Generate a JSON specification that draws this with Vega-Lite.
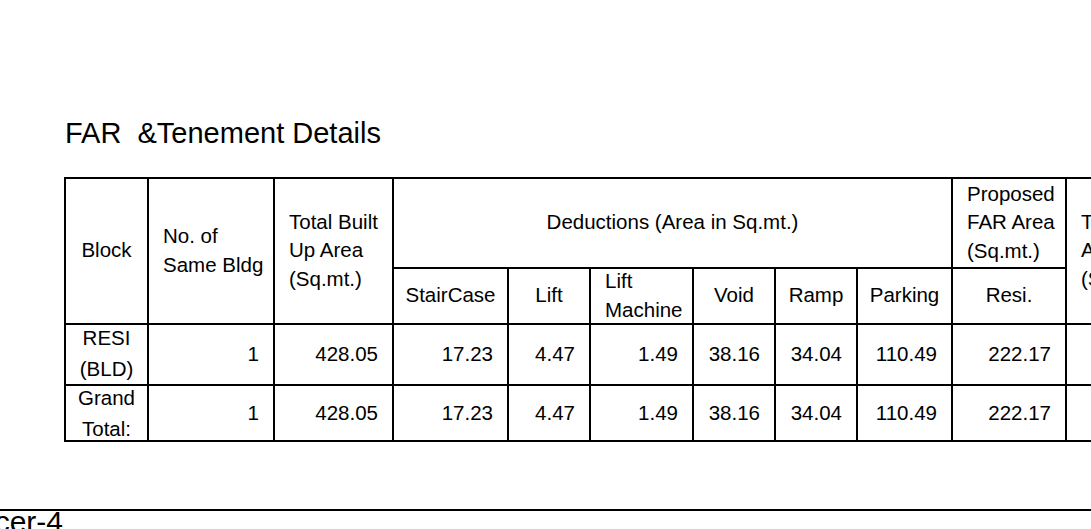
{
  "$schema": "https://vega.github.io/schema/vega-lite/v6.json",
  "width": 1091,
  "height": 529,
  "autosize": {"type": "none"},
  "padding": 0,
  "background": "white",
  "config": {
    "view": {"stroke": null},
    "text": {"font": "Liberation Sans", "fontSize": 20.5, "color": "black"}
  },
  "title": {
    "text": "FAR\u00a0 &Tenement Details",
    "anchor": "start",
    "frame": "group",
    "orient": "top",
    "offset": 0,
    "dx": 65,
    "dy": 172,
    "baseline": "alphabetic",
    "font": "Liberation Sans",
    "fontSize": 29,
    "fontWeight": "normal",
    "color": "black"
  },
  "datasets": {
    "columns": [
      {"key": "Block", "left": 65, "right": 148, "mid": 106.5},
      {"key": "Bldgs", "left": 148, "right": 274, "mid": 211},
      {"key": "BuiltUp", "left": 274, "right": 393, "mid": 333.5},
      {"key": "Deductions", "left": 393, "right": 952, "mid": 672.5},
      {"key": "StairCase", "left": 393, "right": 508, "mid": 450.5},
      {"key": "Lift", "left": 508, "right": 590, "mid": 549},
      {"key": "LiftMachine", "left": 590, "right": 693, "mid": 641.5},
      {"key": "Void", "left": 693, "right": 775, "mid": 734},
      {"key": "Ramp", "left": 775, "right": 857, "mid": 816},
      {"key": "Parking", "left": 857, "right": 952, "mid": 904.5},
      {"key": "ProposedFAR", "left": 952, "right": 1066, "mid": 1009},
      {"key": "Resi", "left": 952, "right": 1066, "mid": 1009},
      {"key": "TotalFAR", "left": 1066, "right": 1180, "mid": 1123}
    ],
    "bands": [
      {"key": "head", "top": 178, "bottom": 324, "mid": 251},
      {"key": "head-upper", "top": 178, "bottom": 268, "mid": 223},
      {"key": "head-lower", "top": 268, "bottom": 324, "mid": 296},
      {"key": "RESI (BLD)", "top": 324, "bottom": 385, "mid": 354.5},
      {"key": "Grand Total:", "top": 385, "bottom": 441, "mid": 414}
    ],
    "headers": [
      {"col": "Block", "band": "head", "text": ["Block"], "align": "center"},
      {"col": "Bldgs", "band": "head", "text": ["No. of", "Same Bldg"], "align": "left"},
      {"col": "BuiltUp", "band": "head", "text": ["Total Built", "Up Area", "(Sq.mt.)"], "align": "left"},
      {"col": "Deductions", "band": "head-upper", "text": ["Deductions (Area in Sq.mt.)"], "align": "center"},
      {"col": "ProposedFAR", "band": "head-upper", "text": ["Proposed", "FAR Area", "(Sq.mt.)"], "align": "left"},
      {"col": "StairCase", "band": "head-lower", "text": ["StairCase"], "align": "center"},
      {"col": "Lift", "band": "head-lower", "text": ["Lift"], "align": "center"},
      {"col": "LiftMachine", "band": "head-lower", "text": ["Lift", "Machine"], "align": "left"},
      {"col": "Void", "band": "head-lower", "text": ["Void"], "align": "center"},
      {"col": "Ramp", "band": "head-lower", "text": ["Ramp"], "align": "center"},
      {"col": "Parking", "band": "head-lower", "text": ["Parking"], "align": "center"},
      {"col": "Resi", "band": "head-lower", "text": ["Resi."], "align": "center"},
      {"col": "TotalFAR", "band": "head", "text": ["Total FAR", "Area", "(Sq.mt.)"], "align": "left"}
    ],
    "table": [
      {"Block": "RESI (BLD)", "Bldgs": 1, "BuiltUp": 428.05, "StairCase": 17.23, "Lift": 4.47, "LiftMachine": 1.49, "Void": 38.16, "Ramp": 34.04, "Parking": 110.49, "Resi": 222.17, "TotalFAR": null},
      {"Block": "Grand Total:", "Bldgs": 1, "BuiltUp": 428.05, "StairCase": 17.23, "Lift": 4.47, "LiftMachine": 1.49, "Void": 38.16, "Ramp": 34.04, "Parking": 110.49, "Resi": 222.17, "TotalFAR": null}
    ]
  },
  "layer": [
    {
      "data": {"name": "headers"},
      "transform": [
        {"lookup": "col", "from": {"data": {"name": "columns"}, "key": "key", "fields": ["left", "right"]}, "as": ["left", "right"]},
        {"lookup": "band", "from": {"data": {"name": "bands"}, "key": "key", "fields": ["top", "bottom"]}, "as": ["top", "bottom"]}
      ],
      "mark": {"type": "rect", "filled": false, "stroke": "black", "strokeWidth": 2, "clip": true},
      "encoding": {
        "x": {"field": "left", "type": "quantitative", "scale": {"domain": [0, 1091], "range": [0, 1091], "nice": false, "zero": false}, "axis": null},
        "x2": {"field": "right"},
        "y": {"field": "top", "type": "quantitative", "scale": {"domain": [0, 529], "range": [0, 529], "nice": false, "zero": false}, "axis": null},
        "y2": {"field": "bottom"}
      }
    },
    {
      "data": {"name": "table"},
      "transform": [
        {"fold": ["Block", "Bldgs", "BuiltUp", "StairCase", "Lift", "LiftMachine", "Void", "Ramp", "Parking", "Resi", "TotalFAR"], "as": ["col", "value"]},
        {"lookup": "col", "from": {"data": {"name": "columns"}, "key": "key", "fields": ["left", "right"]}, "as": ["left", "right"]},
        {"lookup": "Block", "from": {"data": {"name": "bands"}, "key": "key", "fields": ["top", "bottom"]}, "as": ["top", "bottom"]}
      ],
      "mark": {"type": "rect", "filled": false, "stroke": "black", "strokeWidth": 2, "clip": true},
      "encoding": {
        "x": {"field": "left", "type": "quantitative", "axis": null},
        "x2": {"field": "right"},
        "y": {"field": "top", "type": "quantitative", "axis": null},
        "y2": {"field": "bottom"}
      }
    },
    {
      "data": {"name": "headers"},
      "transform": [
        {"filter": "datum.align == 'center'"},
        {"lookup": "col", "from": {"data": {"name": "columns"}, "key": "key", "fields": ["mid"]}, "as": ["xmid"]},
        {"lookup": "band", "from": {"data": {"name": "bands"}, "key": "key", "fields": ["mid"]}, "as": ["ymid"]}
      ],
      "mark": {"type": "text", "align": "center", "baseline": "middle", "clip": true},
      "encoding": {
        "x": {"field": "xmid", "type": "quantitative", "axis": null},
        "y": {"field": "ymid", "type": "quantitative", "axis": null},
        "text": {"field": "text", "type": "nominal"}
      }
    },
    {
      "data": {"name": "headers"},
      "transform": [
        {"filter": "datum.align == 'left' && datum.text.length == 2"},
        {"lookup": "col", "from": {"data": {"name": "columns"}, "key": "key", "fields": ["left"]}, "as": ["left"]},
        {"lookup": "band", "from": {"data": {"name": "bands"}, "key": "key", "fields": ["mid"]}, "as": ["ymid"]}
      ],
      "mark": {"type": "text", "align": "left", "baseline": "middle", "dx": 15, "dy": -14.5, "lineHeight": 29, "clip": true},
      "encoding": {
        "x": {"field": "left", "type": "quantitative", "axis": null},
        "y": {"field": "ymid", "type": "quantitative", "axis": null},
        "text": {"field": "text", "type": "nominal"}
      }
    },
    {
      "data": {"name": "headers"},
      "transform": [
        {"filter": "datum.align == 'left' && datum.text.length == 3"},
        {"lookup": "col", "from": {"data": {"name": "columns"}, "key": "key", "fields": ["left"]}, "as": ["left"]},
        {"lookup": "band", "from": {"data": {"name": "bands"}, "key": "key", "fields": ["mid"]}, "as": ["ymid"]}
      ],
      "mark": {"type": "text", "align": "left", "baseline": "middle", "dx": 15, "dy": -28.5, "lineHeight": 28.5, "clip": true},
      "encoding": {
        "x": {"field": "left", "type": "quantitative", "axis": null},
        "y": {"field": "ymid", "type": "quantitative", "axis": null},
        "text": {"field": "text", "type": "nominal"}
      }
    },
    {
      "data": {"name": "table"},
      "transform": [
        {"fold": ["Block"], "as": ["col", "label"]},
        {"lookup": "col", "from": {"data": {"name": "columns"}, "key": "key", "fields": ["mid"]}, "as": ["xmid"]},
        {"lookup": "Block", "from": {"data": {"name": "bands"}, "key": "key", "fields": ["mid"]}, "as": ["ymid"]}
      ],
      "mark": {"type": "text", "align": "center", "baseline": "middle", "lineBreak": " ", "lineHeight": 31, "dy": -15.5},
      "encoding": {
        "x": {"field": "xmid", "type": "quantitative", "axis": null},
        "y": {"field": "ymid", "type": "quantitative", "axis": null},
        "text": {"field": "label", "type": "nominal"}
      }
    },
    {
      "data": {"name": "table"},
      "transform": [
        {"fold": ["Bldgs", "BuiltUp", "StairCase", "Lift", "LiftMachine", "Void", "Ramp", "Parking", "Resi", "TotalFAR"], "as": ["col", "value"]},
        {"filter": "isValid(datum.value)"},
        {"lookup": "col", "from": {"data": {"name": "columns"}, "key": "key", "fields": ["right"]}, "as": ["right"]},
        {"lookup": "Block", "from": {"data": {"name": "bands"}, "key": "key", "fields": ["mid"]}, "as": ["ymid"]}
      ],
      "mark": {"type": "text", "align": "right", "baseline": "middle", "dx": -15, "clip": true},
      "encoding": {
        "x": {"field": "right", "type": "quantitative", "axis": null},
        "y": {"field": "ymid", "type": "quantitative", "axis": null},
        "text": {"field": "value", "type": "nominal"}
      }
    },
    {
      "data": {"values": [{"sheet": "frame"}]},
      "mark": {"type": "rule", "stroke": "black", "strokeWidth": 2},
      "encoding": {
        "y": {"datum": 510, "type": "quantitative", "axis": null}
      }
    },
    {
      "data": {"values": [{"label": "cer-4"}]},
      "mark": {"type": "text", "align": "right", "baseline": "alphabetic", "font": "Liberation Sans", "fontSize": 30},
      "encoding": {
        "x": {"datum": 63, "type": "quantitative", "axis": null},
        "y": {"datum": 532, "type": "quantitative", "axis": null},
        "text": {"field": "label", "type": "nominal"}
      }
    }
  ]
}
